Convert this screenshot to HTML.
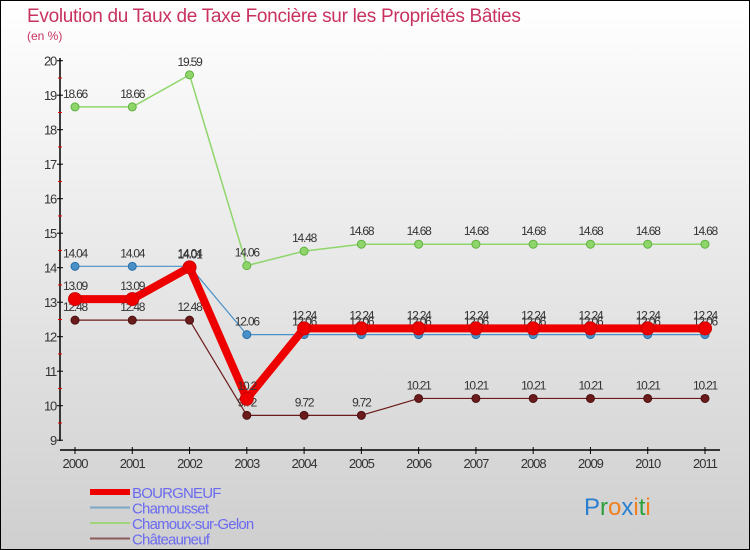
<!DOCTYPE html>
<html><head><meta charset="utf-8"><style>
html,body{margin:0;padding:0}
body{width:750px;height:550px;overflow:hidden;font-family:"Liberation Sans",sans-serif}
#c{position:absolute;left:0;top:0;width:748px;height:548px;border:1px solid #000;background:linear-gradient(#fff,#cfcfcf)}
</style></head><body>
<div id="c"></div>
<svg id="s" width="750" height="550" style="position:absolute;left:0;top:0">
<text x="27" y="22" font-size="19" fill="#c8325f" letter-spacing="-0.3">Evolution du Taux de Taxe Foncière sur les Propriétés Bâties</text>
<text x="27" y="40" font-size="12" fill="#c8325f">(en %)</text>
</svg>
<script>
const years=["2000","2001","2002","2003","2004","2005","2006","2007","2008","2009","2010","2011"];
const yTicks=[9,10,11,12,13,14,15,16,17,18,19,20];
const bourgneuf=[13.09,13.09,14.01,10.2,12.24,12.24,12.24,12.24,12.24,12.24,12.24,12.24];
const chamousset=[14.04,14.04,14.04,12.06,12.06,12.06,12.06,12.06,12.06,12.06,12.06,12.06];
const chamoux=[18.66,18.66,19.59,14.06,14.48,14.68,14.68,14.68,14.68,14.68,14.68,14.68];
const chateauneuf=[12.48,12.48,12.48,9.72,9.72,9.72,10.21,10.21,10.21,10.21,10.21,10.21];
const NS="http://www.w3.org/2000/svg",s=document.getElementById('s');
const X=i=>75+i*(630/11), Y=v=>60.7+(20-v)*34.5;
function el(t,a,p){const e=document.createElementNS(NS,t);for(const k in a)e.setAttribute(k,a[k]);(p||s).appendChild(e);return e;}
let ax=el('line',{x1:60,y1:58,x2:60,y2:441,stroke:'#000','stroke-width':1.5});


yTicks.forEach(v=>{el('line',{x1:57,y1:Y(v),x2:63,y2:Y(v),stroke:'#000'});
 if(v<20)el('line',{x1:58,y1:Y(v+0.5),x2:62,y2:Y(v+0.5),stroke:'#e00'});
 const t=el('text',{x:56,y:Y(v)+5,'font-size':13,'text-anchor':'end',fill:'#333','letter-spacing':'-1.2'});t.textContent=v;
 
 });
let xa=el('line',{x1:60,y1:450,x2:720,y2:450,stroke:'#000','stroke-width':1.5});


years.forEach((y,i)=>{el('line',{x1:X(i),y1:447,x2:X(i),y2:454,stroke:'#000'});
 const t=el('text',{x:X(i),y:468,'font-size':13,'text-anchor':'middle',fill:'#333','letter-spacing':'-1'});t.textContent=y;
 
 });
function series(d,col,w,r,name,dark){
 const g=el('g',{});
 
 
 el('polyline',{points:d.map((v,i)=>X(i)+','+Y(v)).join(' '),fill:'none',stroke:col,'stroke-width':w,'stroke-linejoin':'round'},g);
 d.forEach((v,i)=>{const c=el('circle',{cx:X(i),cy:Y(v),r:r,fill:col,stroke:dark,'stroke-width':1},g);
  
  
  const t=el('text',{x:X(i),y:Y(v)-9,'font-size':12,'text-anchor':'middle',fill:'#333','letter-spacing':'-1.2'},g);t.textContent=String(v);
  
  });
}
series(chateauneuf,'#6b1b1b',1.2,4,'chateauneuf','#4a1010');
series(chamousset,'#4a90c8',1.2,4,'chamousset','#2a6fa8');
series(chamoux,'#8fd66a',1.5,4,'chamoux-sur-gelon','#5fb040');
series(bourgneuf,'#ee0000',8,6.5,'bourgneuf','#cc0000');
const leg=[['BOURGNEUF','#ee0000',6],['Chamousset','#7aa6c8',2],['Chamoux-sur-Gelon','#9fd67a',2],['Châteauneuf','#8b5a5a',2]];
leg.forEach((l,i)=>{const y=492+i*15.5;const g=el('g',{});
 
 
 el('line',{x1:90,y1:y,x2:130,y2:y,stroke:l[1],'stroke-width':l[2]},g);
 const t=el('text',{x:132,y:y+6,'font-size':15,fill:'#6a6af0','letter-spacing':'-0.8'},g);t.textContent=l[0];});
const lg=el('text',{x:584,y:515,'font-size':24});


[['P','#2a7fd0'],['r','#2a9f3a'],['o','#f08020'],['x','#2a7fd0'],['i','#f08020'],['t','#2a9f3a'],['i','#f08020']].forEach(p=>{const ts=el('tspan',{fill:p[1]},lg);ts.textContent=p[0];});
</script>
</body></html>
